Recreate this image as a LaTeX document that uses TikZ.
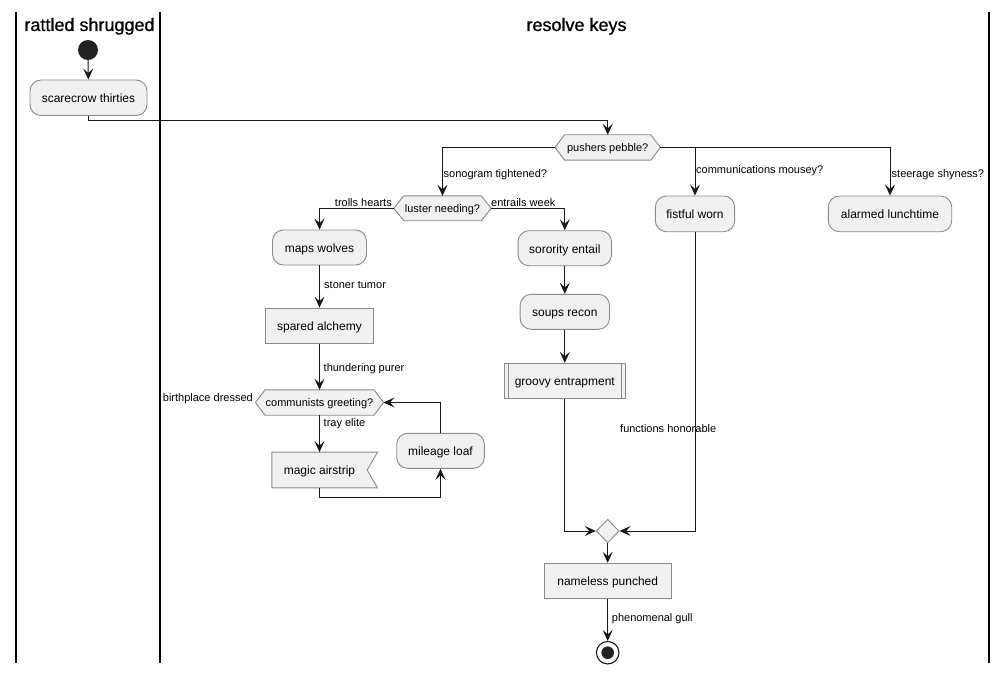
\documentclass[tikz,border=0pt]{standalone}
\usepackage{fontspec}
\setmainfont{Liberation Sans}
\newfontfamily\titlefont[FakeBold=0.8]{Liberation Sans}
\usetikzlibrary{arrows.meta,backgrounds,shapes.geometric}
\definecolor{nodefill}{HTML}{F1F1F1}
\definecolor{nodeline}{HTML}{8A8A8A}
\definecolor{ink}{HTML}{181818}
\definecolor{dot}{HTML}{222222}
\begin{document}
\begin{tikzpicture}[x=1pt,y=-1pt,
  act/.style={draw=nodeline, fill=nodefill, line width=0.9pt, rounded corners=11pt, inner sep=0pt, text height=11.8pt, text depth=2pt, font=\fontsize{12}{14}\selectfont},
  box/.style={draw=nodeline, fill=nodefill, line width=0.9pt, inner sep=0pt, text height=11.8pt, text depth=2pt, font=\fontsize{12}{14}\selectfont},
  hexa/.style={inner sep=0pt, text height=10.4pt, text depth=2pt, font=\fontsize{11}{13}\selectfont},
  shapeline/.style={draw=nodeline, fill=nodefill, line width=0.9pt},
  lbl/.style={font=\fontsize{11}{13}\selectfont, inner sep=0pt},
  arr/.style={draw=ink, line width=1pt, -{Stealth[length=11pt,width=10pt,inset=4.5pt]}},
  lane/.style={draw=black, line width=1.5pt},
  title/.style={font=\titlefont\fontsize{18}{22}\selectfont, inner sep=0pt},
]
\useasboundingbox (0,0) rectangle (1007,674);

% swimlanes
\draw[lane] (16,12) -- (16,663);
\draw[lane] (160,12) -- (160,663);
\draw[lane] (989,12) -- (989,663);
\node[title, anchor=base] (t1) at (89.5,31) {rattled shrugged};
\node[title, anchor=base] (t2) at (576.5,31) {resolve keys};

% nodes
\node[circle, fill=dot, minimum size=20pt, inner sep=0pt] (start) at (88,50) {};
\node[act, minimum width=117pt, minimum height=35.5pt] (scarecrow) at (88.5,97.75) {scarecrow thirties};
\node[hexa, minimum width=105pt, minimum height=25pt] (pushers) at (607.7,147.5) {pushers pebble?};
\node[hexa, minimum width=97pt, minimum height=24.5pt] (luster) at (442.5,208.3) {luster needing?};
\node[act, minimum width=94pt, minimum height=35pt] (maps) at (319.5,247.5) {maps wolves};
\node[act, minimum width=93.4pt, minimum height=35pt] (sorority) at (564.8,248.2) {sorority entail};
\node[act, minimum width=79.3pt, minimum height=35.7pt] (fistful) at (695,213.85) {fistful worn};
\node[act, minimum width=123.4pt, minimum height=35.7pt] (alarmed) at (890,213.85) {alarmed lunchtime};
\node[box, minimum width=107.6pt, minimum height=35.3pt] (spared) at (319.5,325.7) {spared alchemy};
\node[act, minimum width=89.3pt, minimum height=35pt] (soups) at (564.8,311.8) {soups recon};
\node[box, minimum width=121.7pt, minimum height=35pt] (groovy) at (564.8,380.8) {groovy entrapment};
\node[hexa, minimum width=127.6pt, minimum height=25pt] (communists) at (319.5,402.5) {communists greeting?};
\node[hexa, minimum width=95pt, minimum height=35.4pt, text height=11.8pt, font=\fontsize{12}{14}\selectfont] (magic) at (319.5,470) {magic airstrip};
\node[act, minimum width=87.6pt, minimum height=35pt] (mileage) at (440.5,450.8) {mileage loaf};
\node[diamond, shapeline, minimum width=23pt, minimum height=23.4pt, inner sep=0pt] (merge) at (607.7,531) {};
\node[box, minimum width=127.4pt, minimum height=35pt] (nameless) at (607.7,580.8) {nameless punched};
\node[circle, draw=ink, fill=white, line width=1.1pt, minimum size=22.5pt, inner sep=0pt] (endc) at (607.7,652.7) {};
\fill[dot] (endc.center) circle (6.3);

% special shapes behind text
\begin{scope}[on background layer]
\path[shapeline] (pushers.west) -- ([xshift=9.5pt]pushers.north west) -- ([xshift=-9.5pt]pushers.north east) -- (pushers.east) -- ([xshift=-9.5pt]pushers.south east) -- ([xshift=9.5pt]pushers.south west) -- cycle;
\path[shapeline] (luster.west) -- ([xshift=10pt]luster.north west) -- ([xshift=-10pt]luster.north east) -- (luster.east) -- ([xshift=-10pt]luster.south east) -- ([xshift=10pt]luster.south west) -- cycle;
\path[shapeline] (communists.west) -- ([xshift=9.5pt]communists.north west) -- ([xshift=-9.5pt]communists.north east) -- (communists.east) -- ([xshift=-9.5pt]communists.south east) -- ([xshift=9.5pt]communists.south west) -- cycle;
\path[shapeline] (magic.north west) -- ([xshift=10.4pt]magic.north east) -- (magic.east) -- ([xshift=10.4pt]magic.south east) -- (magic.south west) -- cycle;
\end{scope}
\draw[draw=nodeline, line width=0.9pt] ([xshift=5pt]groovy.north west) -- ([xshift=5pt]groovy.south west);
\draw[draw=nodeline, line width=0.9pt] ([xshift=-5pt]groovy.north east) -- ([xshift=-5pt]groovy.south east);

% connectors
\draw[arr] (start) -- (scarecrow);
\draw[arr] (scarecrow.south) -- ++(0,5) -| (pushers.north);
\draw[arr] (pushers.west) -| (luster.north);
\draw[arr] (pushers.east) -| (fistful.north);
\draw[arr] (pushers.east) -| (alarmed.north);
\draw[arr] (luster.west) -| (maps.north);
\draw[arr] (luster.east) -| (sorority.north);
\draw[arr] (maps) -- (spared);
\draw[arr] (spared) -- (communists);
\draw[arr] (communists) -- (magic);
\draw[arr] (magic.south) -- ++(0,9.6) -| (mileage.south);
\draw[arr] (mileage.north) |- (communists.east);
\draw[arr] (sorority) -- (soups);
\draw[arr] (soups) -- (groovy);
\draw[arr] (groovy.south) |- (merge.west);
\draw[arr] (fistful.south) |- (merge.east);
\draw[arr] (merge) -- (nameless);
\draw[arr] (nameless) -- (endc);

% labels
\node[lbl, anchor=base west] (l1) at (443.5,177.3) {sonogram tightened?};
\node[lbl, anchor=base west] (l2) at (696,173.3) {communications mousey?};
\node[lbl, anchor=base west] (l3) at (891.5,177.3) {steerage shyness?};
\node[lbl, anchor=base east] (l4) at (392,206.3) {trolls hearts};
\node[lbl, anchor=base west] (l5) at (491,206.7) {entrails week};
\node[lbl, anchor=base west] (l6) at (324,288) {stoner tumor};
\node[lbl, anchor=base west] (l7) at (323.5,371) {thundering purer};
\node[lbl, anchor=base west] (l8) at (323.5,426.7) {tray elite};
\node[lbl, anchor=base east] (l9) at (253,401.3) {birthplace dressed};
\node[lbl, anchor=base west] (l10) at (620,432.3) {functions honorable};
\node[lbl, anchor=base west] (l11) at (611.7,621.3) {phenomenal gull};
\end{tikzpicture}
\end{document}
